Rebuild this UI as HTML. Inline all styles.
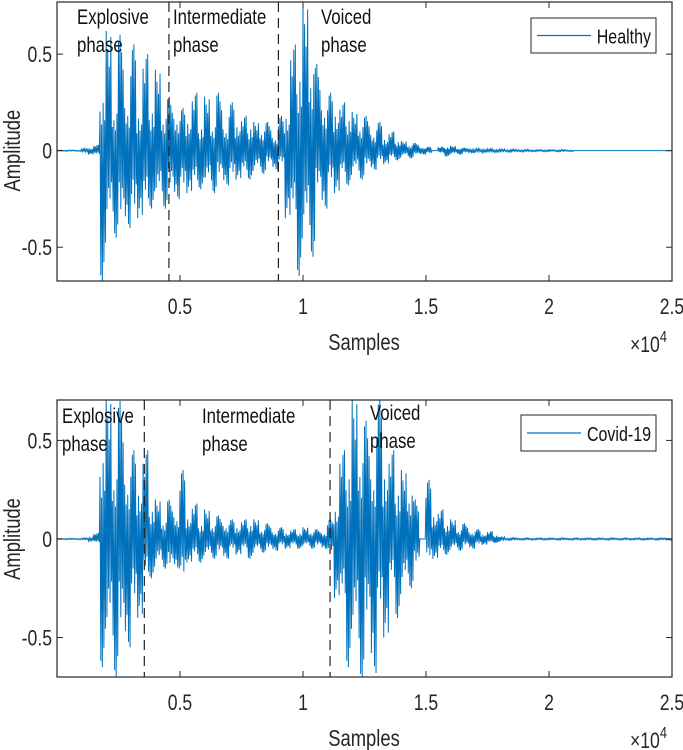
<!DOCTYPE html>
<html><head><meta charset="utf-8"><style>
html,body{margin:0;padding:0;background:#fff;}
svg{display:block;font-family:"Liberation Sans",sans-serif;}
</style></head><body>
<svg id="chart" width="683" height="750" viewBox="0 0 683 750"></svg>
<script>
// ---- data (sample index = bin * 250) ----
const xTicks = [5000, 10000, 15000, 20000, 25000];
const xTickLabels = ["0.5", "1", "1.5", "2", "2.5"];
const yTicks = [0.5, 0, -0.5];
const yTickLabels = ["0.5", "0", "-0.5"];
const binSize = 250;
const healthyPos = [0.003,0.003,0.003,0.003,0.01,0.02,0.03,0.45,0.62,0.35,0.6,0.4,0.55,0.3,0.5,0.35,0.42,0.3,
 0.28,0.3,0.22,0.25,0.3,0.2,0.28,0.22,0.3,0.2,0.25,0.22,0.18,0.2,0.15,0.18,0.15,0.12,
 0.18,0.3,0.55,0.65,0.77,0.72,0.45,0.38,0.3,0.32,0.25,0.28,0.2,0.22,0.18,0.15,0.15,0.1,0.1,0.08,0.05,0.05,0.04,0.03,0.02,
 0.0,0.02,0.03,0.025,0.02,0.015,0.012,0.01,0.01,0.01,0.008,0.008,0.007,0.007,0.006,0.006,0.005,0.005,0.005,0.005,0.005,0.005,0.004,
 0,0,0,0,0,0,0,0,0,0,0,0,0,0,0,0];
const healthyNeg = [0.003,0.003,0.003,0.003,0.01,0.02,0.03,0.68,0.55,0.45,0.55,0.4,0.5,0.35,0.45,0.3,0.35,0.3,
 0.3,0.25,0.3,0.22,0.28,0.2,0.25,0.22,0.2,0.18,0.2,0.15,0.18,0.15,0.14,0.12,0.1,0.1,
 0.1,0.35,0.55,0.65,0.6,0.55,0.3,0.3,0.25,0.22,0.2,0.18,0.15,0.15,0.12,0.1,0.08,0.07,0.06,0.05,0.04,0.04,0.03,0.02,0.02,
 0.0,0.02,0.03,0.025,0.02,0.015,0.012,0.01,0.01,0.01,0.008,0.008,0.007,0.007,0.006,0.006,0.005,0.005,0.005,0.005,0.005,0.005,0.004,
 0,0,0,0,0,0,0,0,0,0,0,0,0,0,0,0];
const covidPos = [0.003,0.003,0.003,0.003,0.005,0.01,0.03,0.7,0.72,0.55,0.7,0.5,0.45,0.4,0.45,0.25,0.2,0.15,0.2,0.2,0.35,0.18,0.18,0.12,0.15,0.12,0.12,0.12,0.1,0.1,0.1,0.12,0.1,0.08,0.08,0.06,0.06,0.05,0.05,0.05,0.06,0.06,0.05,0.05,0.1,
 0.25,0.45,0.55,0.72,0.7,0.6,0.55,0.72,0.55,0.45,0.4,0.35,0.4,0.2,0.0,0.3,0.2,0.15,0.12,0.1,0.08,0.08,0.06,0.05,0.04,0.04,0.03,0.01,
 0.006,0.006,0.005,0.005,0.005,0.005,0.005,0.005,0.005,0.005,0.005,0.005,0.005,0.005,0.005,0.005,0.005,0.005,0.005,0.005,0.005,0.005,0.005,0.005,0.005,0.005,0.005,0.005];
const covidNeg = [0.003,0.003,0.003,0.003,0.005,0.01,0.03,0.65,0.72,0.7,0.72,0.55,0.5,0.4,0.3,0.2,0.18,0.15,0.22,0.15,0.3,0.12,0.14,0.12,0.12,0.1,0.1,0.1,0.08,0.08,0.08,0.1,0.08,0.07,0.07,0.06,0.05,0.05,0.05,0.05,0.05,0.05,0.05,0.05,0.1,
 0.3,0.5,0.65,0.7,0.72,0.65,0.68,0.55,0.5,0.35,0.4,0.35,0.25,0.2,0.0,0.15,0.1,0.1,0.08,0.07,0.06,0.05,0.05,0.04,0.03,0.03,0.02,0.01,
 0.006,0.006,0.005,0.005,0.005,0.005,0.005,0.005,0.005,0.005,0.005,0.005,0.005,0.005,0.005,0.005,0.005,0.005,0.005,0.005,0.005,0.005,0.005,0.005,0.005,0.005,0.005,0.005];
const healthyPhases = [4550, 9000];
const covidPhases = [3550, 11100];

const NS = "http://www.w3.org/2000/svg";
const svg = document.getElementById('chart');
function mk(tag, attrs, parent){ const e=document.createElementNS(NS,tag); for(const k in attrs) e.setAttribute(k,attrs[k]); (parent||svg).appendChild(e); return e; }
const SX = 0.8;
function txt(x, y, size, anchor, color, parent, rot){
  const t = mk('text',{x:0,y:0,'text-anchor':anchor,'font-size':size,fill:color,
    transform:'translate('+x+','+y+')'+(rot?' rotate(-90)':'')+' scale('+SX+',1)'},parent);
  return t;
}
const wiggle = [1,0.55,0.85,0.35,0.7,0.45,0.95,0.3];

function panel(cfg){
  const L=57,R=672,T=cfg.top,B=cfg.bottom;
  const xS = v => L + (v-0)/(25000)*(R-L);
  const yS = v => T + (cfg.ymax - v)/(cfg.ymax-cfg.ymin)*(B-T);
  const g = mk('g',{});
  
  
  const cid = 'clip-'+cfg.name;
  const cp = mk('clipPath',{id:cid},g); mk('rect',{x:L,y:T,width:R-L,height:B-T},cp);
  let d = 'M'+L+' '+yS(0);
  const sub = wiggle.length;
  for(let i=0;i<cfg.pos.length;i++){
    for(let k=0;k<sub;k++){
      const s = i*binSize + k*binSize/sub;
      const a = (k%2===0 ? cfg.pos[i] : -cfg.neg[i]) * wiggle[(k+i*3)%sub];
      d += ' L'+xS(s).toFixed(2)+' '+yS(a).toFixed(2);
    }
  }
  d += ' L'+R+' '+yS(0);
  const w = mk('path',{d:d,fill:'none',stroke:'#0072BD','stroke-width':1,'clip-path':'url(#'+cid+')'},g);
  
  
  cfg.phases.forEach((p,i)=>{
    const l = mk('line',{x1:xS(p),x2:xS(p),y1:T,y2:B,stroke:'#222','stroke-width':1.2,'stroke-dasharray':'10,6'},g);
    
    
  });
  const box = mk('rect',{x:L,y:T,width:R-L,height:B-T,fill:'none',stroke:'#262626','stroke-width':1.2},g);
  
  
  xTicks.forEach((t,i)=>{
    const x=xS(t);
    mk('line',{x1:x,x2:x,y1:B,y2:B-6,stroke:'#262626'},g);
    mk('line',{x1:x,x2:x,y1:T,y2:T+6,stroke:'#262626'},g);
    const tx = txt(x, B+33, 22, 'middle', '#262626', g);
    tx.textContent = xTickLabels[i];
    
    
  });
  yTicks.forEach((t,i)=>{
    const y=yS(t);
    mk('line',{x1:L,x2:L+6,y1:y,y2:y,stroke:'#262626'},g);
    mk('line',{x1:R,x2:R-6,y1:y,y2:y,stroke:'#262626'},g);
    const tx = txt(L-5, y+8, 22, 'end', '#262626', g);
    tx.textContent = yTickLabels[i];
    
    
  });
  const xl = txt(364, B+69, 23, 'middle', '#262626', g);
  xl.textContent='Samples';
  
  
  const ex = txt(630, B+71, 22, 'start', '#262626', g);
  ex.innerHTML='×10<tspan dy="-10" font-size="16">4</tspan>';
  
  
  const yl = txt(20, yS(0), 23, 'middle', '#262626', g, true);
  yl.textContent='Amplitude';
  
  
  cfg.labels.forEach(lb=>{
    const t = txt(lb[0], lb[1], 21, 'start', '#111', g);
    t.textContent=lb[2];
    
    
    const t2 = txt(lb[0], lb[1]+28, 21, 'start', '#111', g);
    t2.textContent='phase';
    
    
  });
  const lg = mk('g',{},g);
  
  
  const [lx,ly,lw,lh] = cfg.legend;
  mk('rect',{x:lx,y:ly,width:lw,height:lh,fill:'#fff',stroke:'#262626','stroke-width':1},lg);
  mk('line',{x1:lx+6,x2:lx+60,y1:ly+lh/2,y2:ly+lh/2,stroke:'#0072BD','stroke-width':1.2},lg);
  const lt = txt(lx+lw-5, ly+lh/2+8, 20, 'end', '#111', lg);
  lt.textContent = cfg.legendText;
  
  
}

panel({name:'healthy',top:2,bottom:281,ymax:0.77,ymin:-0.675,pos:healthyPos,neg:healthyNeg,phases:healthyPhases,
  labels:[[77,24,'Explosive','explosive-label'],[173,24,'Intermediate','intermediate-label'],[321,24,'Voiced','voiced-label']],
  legend:[531,18,125,35],legendText:'Healthy'});
panel({name:'covid',top:400,bottom:677,ymax:0.705,ymin:-0.7,pos:covidPos,neg:covidNeg,phases:covidPhases,
  labels:[[62,423,'Explosive','explosive-label-covid'],[202,423,'Intermediate','intermediate-label-covid'],[370,420,'Voiced','voiced-label-covid']],
  legend:[521,415,135,36],legendText:'Covid-19'});
</script>
</body></html>
